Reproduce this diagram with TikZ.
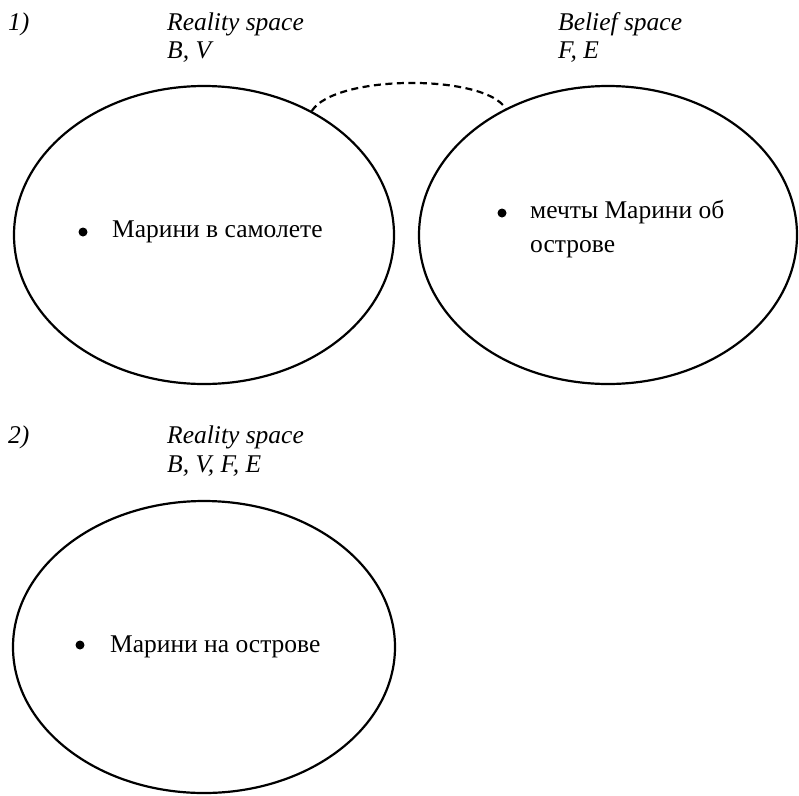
\documentclass[tikz,border=0pt]{standalone}
\usepackage{fontspec}
\setmainfont{Liberation Serif}
\usetikzlibrary{shapes.geometric}
\tikzset{
  space/.style={draw=black, line width=2.2pt, ellipse, inner sep=0pt},
  lbl/.style={anchor=base west, inner sep=0pt, font=\fontsize{25.5}{28}\selectfont\itshape},
  item/.style={anchor=base west, inner sep=0pt, align=left, font=\fontsize{25.5}{34}\selectfont},
  dot/.style={circle, fill=black, inner sep=0pt, minimum size=9pt},
  link/.style={line width=2.2pt, dash pattern=on 7pt off 4.5pt}
}
\begin{document}
\begin{tikzpicture}[x=1pt,y=-1pt]
\useasboundingbox (0,0) rectangle (799,795);
% panel 1
\node[lbl] (n1) at (8,30) {1)};
\node[lbl] (r1) at (167,30) {Reality space};
\node[lbl] (r1v) at (167,58) {B, V};
\node[lbl] (b1) at (558,30) {Belief space};
\node[lbl] (b1v) at (558,58) {F, E};
\node[space, minimum width=380pt, minimum height=298pt] (e1) at (204,235) {};
\node[space, minimum width=378pt, minimum height=298pt] (e2) at (608,235) {};
\node[dot] (d1) at (83,232) {};
\node[item] (t1) at (112,237) {Марини в самолете};
\node[dot] (d2) at (502,213) {};
\node[item] (t2) at (530,252) {мечты Марини об\\острове};
\coordinate (c1) at (e1.49);
\coordinate (c2) at (e2.129);
\draw[link] (c1) .. controls (335,74) and (485,74) .. (c2);
% panel 2
\node[lbl] (n2) at (8,443) {2)};
\node[lbl] (r2) at (167,443) {Reality space};
\node[lbl] (r2v) at (167,472) {B, V, F, E};
\node[space, minimum width=382pt, minimum height=292pt] (e3) at (204,647) {};
\node[dot] (d3) at (80,645) {};
\node[item] (t3) at (110,652) {Марини на острове};
\end{tikzpicture}
\end{document}
